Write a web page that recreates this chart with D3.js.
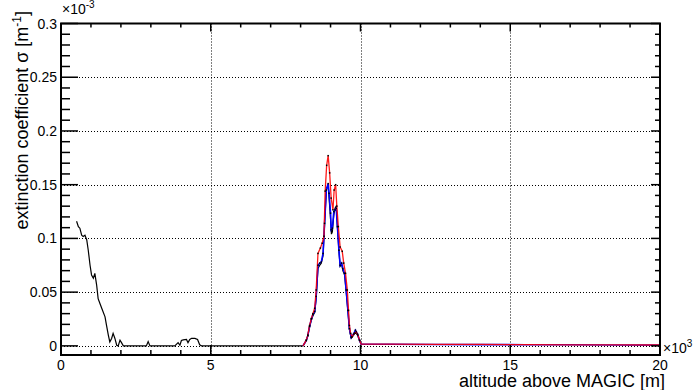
<!DOCTYPE html>
<html>
<head>
<meta charset="utf-8">
<script src="https://cdn.jsdelivr.net/npm/d3@7"></script>
<style>
  body { margin: 0; background: #fff; }
  svg { display: block; font-family: "Liberation Sans", Arial, sans-serif; }
</style>
</head>
<body>
<div class="container"></div>
<script>
// altitude in km (x10^3 m), extinction in 10^-3 m^-1
var blackAlt = [0.52, 0.58, 0.63, 0.69, 0.74, 0.80, 0.86, 0.91, 0.97, 1.02, 1.08, 1.13, 1.19, 1.24, 1.30, 1.36, 1.47, 1.52, 1.58, 1.63, 1.69, 1.74, 1.80, 1.86, 1.91, 1.97, 2.02, 2.08, 2.85, 2.91, 2.97, 3.80, 3.91, 3.97, 4.02, 4.08, 4.19, 4.24, 4.30, 4.36, 4.47, 4.56, 4.63, 4.69, 8.08,
  8.19, 8.24, 8.30, 8.36, 8.41, 8.47, 8.52, 8.58, 8.64, 8.69, 8.75, 8.80, 8.86, 8.92, 8.95, 9.00, 9.03, 9.06, 9.11, 9.15, 9.19, 9.23, 9.28, 9.32, 9.37, 9.41, 9.47, 9.52, 9.58, 9.63, 9.69, 9.77, 9.83, 9.90, 9.97, 10.02];
var blackExt = [0.116, 0.111, 0.1095, 0.103, 0.1017, 0.103, 0.0986, 0.089, 0.075, 0.066, 0.063, 0.0675, 0.0566, 0.044, 0.0395, 0.035, 0.027, 0.019, 0.010, 0.0037, 0.0069, 0.0116, 0.0069, 0.0006, 0, 0.0053, 0.003, 0, 0, 0.004, 0, 0, 0.003, 0.0006, 0.005, 0.0055, 0.006, 0.003, 0.006, 0.007, 0.007, 0.006, 0.001, 0, 0,
  0.005, 0.009, 0.018, 0.024, 0.028, 0.031, 0.044, 0.072, 0.075, 0.077, 0.084, 0.112, 0.146, 0.150, 0.138, 0.118, 0.104, 0.106, 0.122, 0.128, 0.130, 0.110, 0.088, 0.074, 0.076, 0.070, 0.066, 0.051, 0.032, 0.015, 0.007, 0.010, 0.013, 0.010, 0.005, 0.0016];

var blueAlt = [8.08, 8.19, 8.24, 8.30, 8.36, 8.41, 8.47, 8.52, 8.58, 8.64, 8.69, 8.75, 8.80, 8.86, 8.92, 8.95, 9.00, 9.02, 9.06, 9.11, 9.15, 9.19, 9.23, 9.28, 9.32, 9.37, 9.41, 9.47, 9.52, 9.58, 9.63, 9.69, 9.77, 9.83, 9.90, 9.97, 10.02, 11, 12.5, 14, 15.5, 17, 18.5, 20];
var blueExt = [0, 0.005, 0.0095, 0.018, 0.025, 0.029, 0.032, 0.046, 0.075, 0.077, 0.078, 0.086, 0.114, 0.145, 0.151, 0.142, 0.1235, 0.108, 0.1095, 0.125, 0.1266, 0.128, 0.111, 0.089, 0.075, 0.077, 0.072, 0.0675, 0.052, 0.033, 0.016, 0.008, 0.011, 0.0146, 0.011, 0.005, 0.0016, 0.0015, 0.0013, 0.0012, 0.0011, 0.001, 0.0008, 0.0007];

var redAlt = [8.08, 8.19, 8.24, 8.30, 8.36, 8.41, 8.47, 8.52, 8.58, 8.66, 8.72, 8.78, 8.82, 8.87, 8.92, 8.97, 9.02, 9.08, 9.12, 9.17, 9.21, 9.26, 9.32, 9.39, 9.44, 9.50, 9.56, 9.60, 9.63, 9.67, 9.72, 9.80, 9.86, 9.91, 9.97, 10.02, 11, 12.5, 14, 15.5, 17, 18.5, 20];
var redExt = [0, 0.0053, 0.010, 0.019, 0.0255, 0.030, 0.035, 0.052, 0.086, 0.091, 0.0955, 0.102, 0.144, 0.168, 0.177, 0.161, 0.1375, 0.1266, 0.145, 0.150, 0.130, 0.111, 0.092, 0.088, 0.077, 0.0675, 0.052, 0.033, 0.019, 0.0116, 0.0084, 0.012, 0.013, 0.010, 0.0053, 0.0016, 0.0016, 0.0014, 0.0013, 0.0012, 0.001, 0.0009, 0.0008];

var xMajor = [0, 5, 10, 15, 20];
var xLabels = ["0", "5", "10", "15", "20"];
var yMajor = [0, 0.05, 0.1, 0.15, 0.2, 0.25, 0.3];
var yLabels = ["0", "0.05", "0.1", "0.15", "0.2", "0.25", "0.3"];

var width = 698, height = 390;
var padL = 61, padR = 660, padT = 23.5, padB = 355;

var svg = d3.select(".container").append("svg")
  .attr("width", width)
  .attr("height", height);

var x = d3.scaleLinear().domain([0, 20]).range([padL, padR]);
var y = d3.scaleLinear().domain([-0.0085, 0.3]).range([padB, padT]);

// grid
var grid = svg.append("g")
  .attr("stroke", "#000")
  .attr("stroke-width", 1)
  .attr("stroke-dasharray", "1,2");
grid.selectAll("line.gx").data(xMajor.slice(1, -1)).enter().append("line")
  .attr("x1", function(d) { return Math.round(x(d)) + 0.5; })
  .attr("x2", function(d) { return Math.round(x(d)) + 0.5; })
  .attr("y1", padT).attr("y2", padB);
grid.selectAll("line.gy").data(yMajor.slice(0, -1)).enter().append("line")
  .attr("y1", function(d) { return Math.round(y(d)) + 0.5; })
  .attr("y2", function(d) { return Math.round(y(d)) + 0.5; })
  .attr("x1", padL).attr("x2", padR);

// curves
function series(xs, ys) {
  return xs.map(function(a, i) { return [a, ys[i]]; });
}
var line = d3.line()
  .x(function(d) { return x(d[0]); })
  .y(function(d) { return y(d[1]); });

var blackData = series(blackAlt, blackExt);
var blueData = series(blueAlt, blueExt);
var redData = series(redAlt, redExt);

svg.append("path").datum(blackData)
  .attr("d", line).attr("fill", "none")
  .attr("stroke", "#000").attr("stroke-width", 1.2);
svg.append("path").datum(blueData)
  .attr("d", line).attr("fill", "none")
  .attr("stroke", "#0000ff").attr("stroke-width", 1.6);
svg.append("path").datum(redData)
  .attr("d", line).attr("fill", "none")
  .attr("stroke", "#ff0000").attr("stroke-width", 1.3).attr("stroke-opacity", 0.9);

// black point markers on the peak samples
var dots = blueData.concat(redData).filter(function(d) { return d[0] > 8.1 && d[0] < 10.01; });
svg.append("g").selectAll("rect").data(dots).enter().append("rect")
  .attr("x", function(d) { return x(d[0]) - 0.75; })
  .attr("y", function(d) { return y(d[1]) - 0.75; })
  .attr("width", 1.5).attr("height", 1.5)
  .attr("fill", "#000");

// frame
svg.append("rect")
  .attr("x", padL).attr("y", padT)
  .attr("width", padR - padL).attr("height", padB - padT)
  .attr("fill", "none").attr("stroke", "#000").attr("stroke-width", 2);

// ticks
var ticks = svg.append("g").attr("stroke", "#000").attr("stroke-width", 1.5);
var xMinor = d3.range(0, 21, 1);
var yMinor = d3.range(0, 31, 1).map(function(v) { return v / 100; });
xMinor.forEach(function(v) {
  var major = v % 5 === 0;
  var len = major ? 10 : 5;
  ticks.append("line").attr("x1", x(v)).attr("x2", x(v)).attr("y1", padB).attr("y2", padB - len);
  ticks.append("line").attr("x1", x(v)).attr("x2", x(v)).attr("y1", padT).attr("y2", padT + (major ? 8 : 4));
});
yMinor.forEach(function(v, i) {
  var major = i % 5 === 0;
  ticks.append("line").attr("y1", y(v)).attr("y2", y(v)).attr("x1", padL).attr("x2", padL + (major ? 17 : 9));
  ticks.append("line").attr("y1", y(v)).attr("y2", y(v)).attr("x1", padR).attr("x2", padR - (major ? 9 : 5));
});

// tick labels
svg.append("g").selectAll("text").data(xMajor).enter().append("text")
  .attr("x", function(d) { return x(d); })
  .attr("y", 370)
  .attr("text-anchor", "middle")
  .attr("font-size", 14)
  .text(function(d, i) { return xLabels[i]; });
svg.append("g").selectAll("text").data(yMajor).enter().append("text")
  .attr("x", 57)
  .attr("y", function(d) { return y(d) + 5; })
  .attr("text-anchor", "end")
  .attr("font-size", 14)
  .text(function(d, i) { return yLabels[i]; });

// exponents
var ex1 = svg.append("text").attr("x", 62).attr("y", 14).attr("font-size", 14);
ex1.append("tspan").text("\u00d710");
ex1.append("tspan").attr("dy", -6).attr("font-size", 10).text("-3");
var ex2 = svg.append("text").attr("x", 663).attr("y", 353).attr("font-size", 14);
ex2.append("tspan").text("\u00d710");
ex2.append("tspan").attr("dy", -6).attr("font-size", 10).text("3");

// axis titles
svg.append("text")
  .attr("x", 665).attr("y", 387)
  .attr("text-anchor", "end")
  .attr("font-size", 18)
  .text("altitude above MAGIC [m]");
var yt = svg.append("text")
  .attr("transform", "translate(28,11) rotate(-90)")
  .attr("text-anchor", "end")
  .attr("font-size", 18);
yt.append("tspan").text("extinction coefficient \u03c3 [m");
yt.append("tspan").attr("dy", -7).attr("font-size", 12).text("-1");
yt.append("tspan").attr("dy", 7).text("]");
</script>
</body>
</html>
